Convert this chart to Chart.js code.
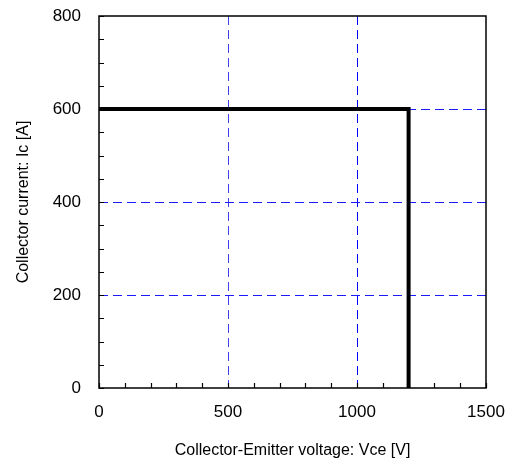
<!DOCTYPE html>
<html>
<head>
<meta charset="utf-8">
<script src="https://cdn.jsdelivr.net/npm/chart.js@4"></script>
<style>
  html, body { margin: 0; padding: 0; background: #fff; }
  #wrap { width: 514px; height: 464px; position: relative; }
</style>
</head>
<body>
<div id="wrap"><canvas id="soa"></canvas></div>
<script>
// Safe operating area boundary
const voltage = [0, 1200, 1200];
const current = [600, 600, 0];

// axis ticks
const xTicks = [0, 500, 1000, 1500];
const yTicks = [0, 200, 400, 600, 800];
const xMinorStep = 100;
const yMinorStep = 50;

const points = voltage.map((v, i) => ({ x: v, y: current[i] }));

// inner minor ticks + closed frame round the plot
const framePlugin = {
    id: 'frame',
    afterDatasetsDraw(chart) {
        const { ctx, chartArea: a, scales } = chart;
        ctx.save();
        ctx.strokeStyle = '#000';
        ctx.lineWidth = 1.2;
        ctx.beginPath();
        for (let v = scales.x.min; v <= scales.x.max; v += xMinorStep) {
            const px = Math.round(scales.x.getPixelForValue(v)) + 0.5;
            ctx.moveTo(px, a.bottom);
            ctx.lineTo(px, a.bottom - 5);
        }
        for (let v = scales.y.min; v <= scales.y.max; v += yMinorStep) {
            const py = Math.round(scales.y.getPixelForValue(v)) + 0.5;
            ctx.moveTo(a.left, py);
            ctx.lineTo(a.left + 5, py);
        }
        ctx.stroke();
        ctx.lineWidth = 1.5;
        ctx.strokeRect(a.left, a.top, a.right - a.left, a.bottom - a.top);
        ctx.restore();
    }
};

const font = { family: 'Liberation Sans', size: 17 };

new Chart(document.getElementById('soa'), {
    type: 'scatter',
    data: {
        datasets: [{
            data: points,
            showLine: true,
            borderColor: '#000',
            borderWidth: 4,
            pointRadius: 0,
            borderJoinStyle: 'miter',
            tension: 0
        }]
    },
    options: {
        responsive: true,
        maintainAspectRatio: false,
        animation: false,
        layout: { padding: { left: 10, top: 0, right: 0, bottom: 0 } },
        plugins: { legend: { display: false }, tooltip: { enabled: false } },
        scales: {
            x: {
                type: 'linear',
                min: xTicks[0],
                max: xTicks[xTicks.length - 1],
                afterBuildTicks: (s) => { s.ticks = xTicks.map(v => ({ value: v })); },
                afterFit: (s) => {
                    s.height = 76;
                    s.paddingLeft = 0;
                    s.paddingRight = 28;
                },
                grid: {
                    color: ['rgba(0,0,0,0)', '#4040f0', '#0000ff', 'rgba(0,0,0,0)'],
                    lineWidth: 1,
                    drawTicks: false
                },
                border: { display: false, dash: [9, 5] },
                ticks: {
                    color: '#000',
                    padding: 14,
                    maxRotation: 0,
                    font: font,
                    callback: (v) => String(v)
                },
                title: {
                    display: true,
                    text: 'Collector-Emitter voltage: Vce [V]',
                    color: '#000',
                    font: { family: 'Liberation Sans', size: 16 },
                    padding: { top: 10, bottom: 4 }
                }
            },
            y: {
                type: 'linear',
                min: yTicks[0],
                max: yTicks[yTicks.length - 1],
                afterBuildTicks: (s) => { s.ticks = yTicks.map(v => ({ value: v })); },
                afterFit: (s) => {
                    s.width = 89;
                    s.paddingTop = 16;
                    s.paddingBottom = 0;
                },
                grid: {
                    color: ['rgba(0,0,0,0)', '#1a1aff', '#1a1aff', '#1a1aff', 'rgba(0,0,0,0)'],
                    lineWidth: 1,
                    drawTicks: false
                },
                border: { display: false, dash: [9, 5] },
                ticks: {
                    color: '#000',
                    padding: 18,
                    font: font,
                    callback: (v) => String(v)
                },
                title: {
                    display: true,
                    text: 'Collector current: Ic [A]',
                    color: '#000',
                    font: { family: 'Liberation Sans', size: 16 },
                    padding: { top: 4, bottom: 4 }
                }
            }
        }
    },
    plugins: [framePlugin]
});
</script>
</body>
</html>
